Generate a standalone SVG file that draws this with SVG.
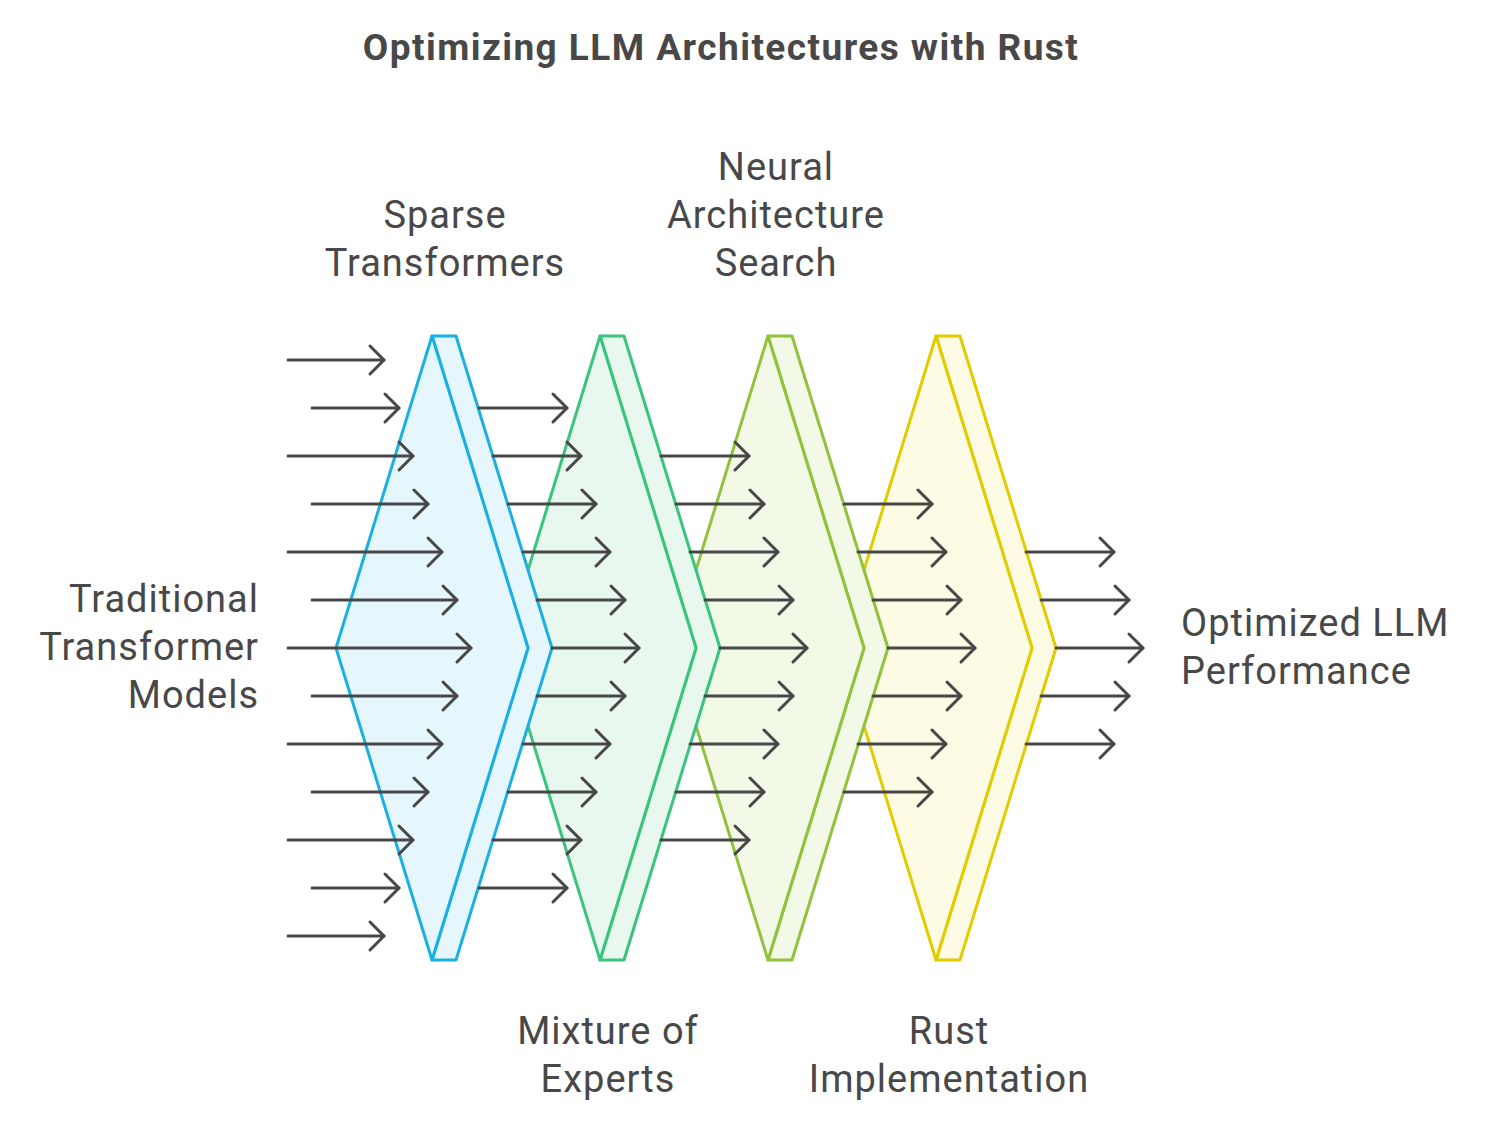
<svg xmlns="http://www.w3.org/2000/svg" width="1488" height="1128" viewBox="0 0 1488 1128">
<defs>
<style>
.t{font-family:Roboto,"Liberation Sans",sans-serif;font-size:38px;letter-spacing:1px;fill:#484848}
.title{font-family:Roboto,"Liberation Sans",sans-serif;font-size:37px;letter-spacing:1.45px;font-weight:bold;fill:#484848}
.ar{stroke:#474747;stroke-width:3;fill:none;stroke-linecap:round;marker-end:url(#ah)}
.sh{stroke-width:3;stroke-linejoin:round}
.blue{fill:#E5F7FD;stroke:#1AB0E0}
.green{fill:#E8F8EF;stroke:#3AC47E}
.lime{fill:#F2F9E6;stroke:#92C13C}
.yellow{fill:#FDFBE3;stroke:#E2CC00}
</style>
<marker id="ah" markerUnits="userSpaceOnUse" markerWidth="20" markerHeight="34" viewBox="0 0 20 34" refX="17" refY="17" orient="auto" overflow="visible">
<path d="M3,3 L17,17 L3,31" fill="none" stroke="#474747" stroke-width="3" stroke-linecap="round" stroke-linejoin="round"/>
</marker>
</defs>
<rect width="1488" height="1128" fill="#FFFFFF"/>
<text class="title" x="721" y="60" text-anchor="middle">Optimizing LLM Architectures with Rust</text>

<g id="rust-implementation">
<polygon class="sh yellow" points="936,336 960,336 1056,648 960,960 936,960 1032,648"/>
<polygon class="sh yellow" points="936,336 1032,648 936,960 840,648"/>
</g>
<g id="neural-architecture-search">
<polygon class="sh lime" points="768,336 792,336 888,648 792,960 768,960 864,648"/>
<polygon class="sh lime" points="768,336 864,648 768,960 672,648"/>
</g>
<g id="mixture-of-experts">
<polygon class="sh green" points="600,336 624,336 720,648 624,960 600,960 696,648"/>
<polygon class="sh green" points="600,336 696,648 600,960 504,648"/>
</g>
<g id="sparse-transformers">
<polygon class="sh blue" points="432,336 456,336 552,648 456,960 432,960 528,648"/>
<polygon class="sh blue" points="432,336 528,648 432,960 336,648"/>
</g>

<g id="connectors">
<path class="ar" d="M288,360H384"/>
<path class="ar" d="M312,408H399"/>
<path class="ar" d="M288,456H413"/>
<path class="ar" d="M312,504H428"/>
<path class="ar" d="M288,552H442"/>
<path class="ar" d="M312,600H457"/>
<path class="ar" d="M288,648H471"/>
<path class="ar" d="M312,696H457"/>
<path class="ar" d="M288,744H442"/>
<path class="ar" d="M312,792H428"/>
<path class="ar" d="M288,840H413"/>
<path class="ar" d="M312,888H399"/>
<path class="ar" d="M288,936H384"/>

<path class="ar" d="M479,408H567"/>
<path class="ar" d="M493,456H581"/>
<path class="ar" d="M508,504H596"/>
<path class="ar" d="M523,552H610"/>
<path class="ar" d="M537,600H625"/>
<path class="ar" d="M552,648H639"/>
<path class="ar" d="M537,696H625"/>
<path class="ar" d="M523,744H610"/>
<path class="ar" d="M508,792H596"/>
<path class="ar" d="M493,840H581"/>
<path class="ar" d="M479,888H567"/>

<path class="ar" d="M661,456H749"/>
<path class="ar" d="M676,504H764"/>
<path class="ar" d="M690,552H778"/>
<path class="ar" d="M705,600H793"/>
<path class="ar" d="M720,648H807"/>
<path class="ar" d="M705,696H793"/>
<path class="ar" d="M690,744H778"/>
<path class="ar" d="M676,792H764"/>
<path class="ar" d="M661,840H749"/>

<path class="ar" d="M844,504H932"/>
<path class="ar" d="M858,552H946"/>
<path class="ar" d="M873,600H961"/>
<path class="ar" d="M888,648H975"/>
<path class="ar" d="M873,696H961"/>
<path class="ar" d="M858,744H946"/>
<path class="ar" d="M844,792H932"/>

<path class="ar" d="M1026,552H1114"/>
<path class="ar" d="M1041,600H1129"/>
<path class="ar" d="M1056,648H1143"/>
<path class="ar" d="M1041,696H1129"/>
<path class="ar" d="M1026,744H1114"/>
</g>

<g id="labels">
<text class="t" text-anchor="end"><tspan x="259" y="612">Traditional</tspan><tspan x="259" y="660">Transformer</tspan><tspan x="259" y="708">Models</tspan></text>
<text class="t" text-anchor="middle"><tspan x="445" y="228">Sparse</tspan><tspan x="445" y="276">Transformers</tspan></text>
<text class="t" text-anchor="middle"><tspan x="776" y="180">Neural</tspan><tspan x="776" y="228">Architecture</tspan><tspan x="776" y="276">Search</tspan></text>
<text class="t" text-anchor="middle"><tspan x="608" y="1044">Mixture of</tspan><tspan x="608" y="1092">Experts</tspan></text>
<text class="t" text-anchor="middle"><tspan x="949" y="1044">Rust</tspan><tspan x="949" y="1092">Implementation</tspan></text>
<text class="t"><tspan x="1181" y="636">Optimized LLM</tspan><tspan x="1181" y="684">Performance</tspan></text>
</g>
</svg>
